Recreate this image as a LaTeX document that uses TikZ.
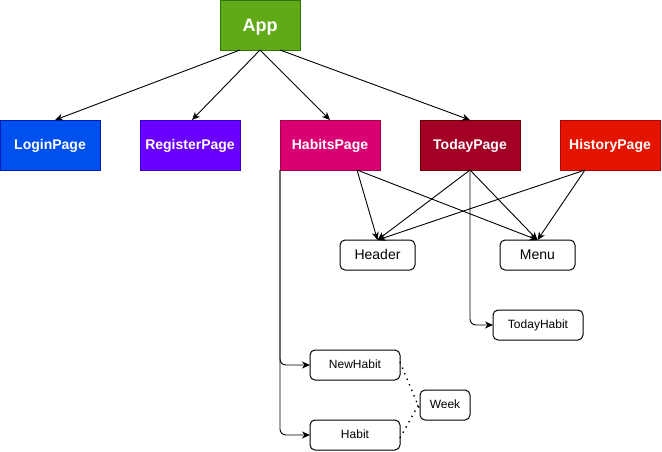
\documentclass[tikz,border=0pt]{standalone}
\usepackage{fontspec}
\setmainfont{Liberation Sans}
\usepackage{xcolor}
\usetikzlibrary{arrows.meta,positioning}

\definecolor{appgreen}{HTML}{60A917}
\definecolor{appgreenb}{HTML}{2D7600}
\definecolor{loginblue}{HTML}{0050EF}
\definecolor{loginblueb}{HTML}{001DBC}
\definecolor{regviolet}{HTML}{6A00FF}
\definecolor{regvioletb}{HTML}{3700CC}
\definecolor{habmagenta}{HTML}{D80073}
\definecolor{habmagentab}{HTML}{A50040}
\definecolor{todaycrimson}{HTML}{A20025}
\definecolor{todaycrimsonb}{HTML}{6F0000}
\definecolor{histred}{HTML}{E51400}
\definecolor{histredb}{HTML}{B20000}

\begin{document}
\begin{tikzpicture}[x=1pt, y=-1pt,
    page/.style={draw, minimum width=100pt, minimum height=50pt, inner sep=0pt,
                 outer sep=0pt, line width=1pt, text=white, text height=10pt, text depth=2pt,
                 font=\fontsize{14}{16}\selectfont\bfseries},
    comp/.style={draw=black, rounded corners=5pt, fill=white, minimum width=75pt,
                 minimum height=30pt, inner sep=0pt, outer sep=0pt, line width=1pt,
                 text height=10pt, text depth=2pt, font=\fontsize{14}{16}\selectfont},
    small/.style={comp, minimum width=90pt, text height=8.5pt, text depth=1.5pt,
                  font=\fontsize{12}{14}\selectfont},
    arr/.style={-{Stealth[length=8pt,width=7pt,inset=2.5pt]}, line width=0.9pt},
    tie/.style={line width=1.4pt, dash pattern=on 1.4pt off 4.6pt}
  ]
  \useasboundingbox (0,0) rectangle (662,451);

  \node[page, minimum width=80pt, fill=appgreen, draw=appgreenb, text height=13pt, text depth=1pt,
        font=\fontsize{18}{20}\selectfont\bfseries] (app) at (260,25) {App};

  \node[page, fill=loginblue, draw=loginblueb] (login) at (50,145) {LoginPage};
  \node[page, fill=regviolet, draw=regvioletb, right=40pt of login] (register) {RegisterPage};
  \node[page, fill=habmagenta, draw=habmagentab, right=40pt of register] (habits) {HabitsPage};
  \node[page, fill=todaycrimson, draw=todaycrimsonb, right=40pt of habits] (today) {TodayPage};
  \node[page, fill=histred, draw=histredb, right=40pt of today] (history) {HistoryPage};

  \node[comp] (header) at (377.5,255) {Header};
  \node[comp] (menu) at (537.5,255) {Menu};
  \node[small] (todayhabit) at (538,325) {TodayHabit};
  \node[small] (newhabit) at (355,365) {NewHabit};
  \node[small, minimum width=50pt] (week) at (445,405) {Week};
  \node[small] (habit) at (355,435) {Habit};

  % app to pages
  \draw[arr] ([xshift=-20pt]app.south) -- ([xshift=5pt]login.north);
  \draw[arr] (app.south) -- ([xshift=2pt]register.north);
  \draw[arr] (app.south) -- (habits.north);
  \draw[arr] ([xshift=20pt]app.south) -- (today.north);

  % pages to shared components
  \draw[arr] ([xshift=27pt]habits.south) -- (header.north);
  \draw[arr] ([xshift=27pt]habits.south) -- (menu.north);
  \draw[arr] (today.south) -- (header.north);
  \draw[arr] (today.south) -- (menu.north);
  \draw[arr] ([xshift=-25pt]history.south) -- (header.north);
  \draw[arr] ([xshift=-25pt]history.south) -- (menu.north);

  % children
  \draw[arr, rounded corners=6pt] (habits.south west) |- (newhabit.west);
  \draw[arr, rounded corners=6pt] (habits.south west) |- (habit.west);
  \draw[arr, rounded corners=6pt] (today.south) |- (todayhabit.west);

  \draw[tie] ([yshift=3pt]newhabit.east) -- ([yshift=-5pt]week.west);
  \draw[tie] ([yshift=-3pt]habit.east) -- ([yshift=3pt]week.west);
\end{tikzpicture}
\end{document}
